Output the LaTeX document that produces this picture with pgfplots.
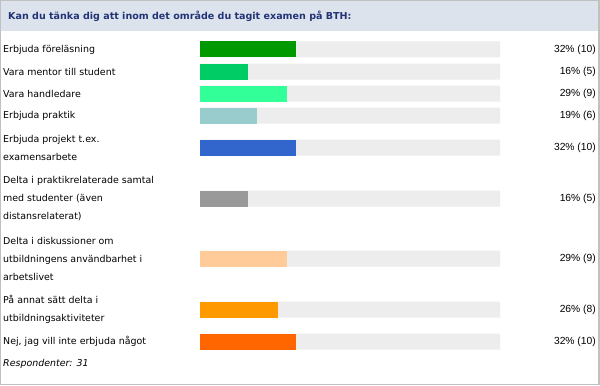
\documentclass[border=0pt]{standalone}
\usepackage{pgfplots}
\pgfplotsset{compat=1.18}
\usepackage{fontspec}
\setmainfont{DejaVu Sans}
\newfontfamily\valfont{Liberation Sans}
\definecolor{c1}{HTML}{009900}
\definecolor{c2}{HTML}{00CC66}
\definecolor{c3}{HTML}{33FF99}
\definecolor{c4}{HTML}{99CCCC}
\definecolor{c5}{HTML}{3366CC}
\definecolor{c6}{HTML}{999999}
\definecolor{c7}{HTML}{FFCC99}
\definecolor{c8}{HTML}{FF9900}
\definecolor{c9}{HTML}{FF6600}
\definecolor{track}{HTML}{EDEDED}
\definecolor{hdr}{HTML}{DDE3EC}
\definecolor{hdrtext}{HTML}{223377}
\definecolor{frame}{HTML}{C0C0C0}
\begin{document}
\begin{tikzpicture}[x=1bp,y=1bp]
% frame and header (pixel coordinates, y down)
\begin{scope}[yscale=-1,shift={(0,-384)}]
\fill[white] (0,0) rectangle (600,384);
\fill[hdr] (0,0) rectangle (600,30);
\draw[frame,line width=1bp] (0.5,0.5) rectangle (598.5,383.5);
\draw[frame,line width=1bp] (599.5,0) -- (599.5,384);
\node[anchor=west,inner sep=0pt,text=hdrtext,font=\fontsize{9.55bp}{11bp}\selectfont\bfseries] at (8,15.5) {Kan du tänka dig att inom det område du tagit examen på BTH:};
\end{scope}
\begin{axis}[
  at={(0,0)}, anchor=south west,
  width=600bp, height=384bp, scale only axis,
  xmin=-66.6667, xmax=133.3333,
  ymin=0, ymax=384, y dir=reverse,
  hide axis, clip=false,
  xbar, bar width=16, bar shift=0pt,
]
% tracks
\addplot[fill=track,draw=none] coordinates {(100,49) (100,71) (100,93) (100,115) (100,147) (100,198) (100,258) (100,309) (100,341)};
\addplot[fill=c1,draw=none] coordinates {(32,49)};
\addplot[fill=c2,draw=none] coordinates {(16,71)};
\addplot[fill=c3,draw=none] coordinates {(29,93)};
\addplot[fill=c4,draw=none] coordinates {(19,115)};
\addplot[fill=c5,draw=none] coordinates {(32,147)};
\addplot[fill=c6,draw=none] coordinates {(16,198)};
\addplot[fill=c7,draw=none] coordinates {(29,258)};
\addplot[fill=c8,draw=none] coordinates {(26,309)};
\addplot[fill=c9,draw=none] coordinates {(32,341)};
% category labels
\begin{scope}[every node/.append style={anchor=west,align=left,inner sep=0pt,font=\fontsize{9.45bp}{18bp}\selectfont}]
\node at (axis cs:-65.667,49) {Erbjuda föreläsning};
\node at (axis cs:-65.667,71) {Vara mentor till student};
\node at (axis cs:-65.667,93) {Vara handledare};
\node at (axis cs:-65.667,115) {Erbjuda praktik};
\node at (axis cs:-65.667,147) {Erbjuda projekt t.ex.\\examensarbete};
\node at (axis cs:-65.667,198) {Delta i praktikrelaterade samtal\\med studenter (även\\distansrelaterat)};
\node at (axis cs:-65.667,258) {Delta i diskussioner om\\utbildningens användbarhet i\\arbetslivet};
\node at (axis cs:-65.667,309) {På annat sätt delta i\\utbildningsaktiviteter};
\node at (axis cs:-65.667,341) {Nej, jag vill inte erbjuda något};
\node at (axis cs:-65.667,363) {\itshape Respondenter: 31};
\end{scope}
% value labels
\begin{scope}[every node/.append style={anchor=east,inner sep=0pt,font=\fontsize{10.3bp}{12bp}\selectfont\valfont}]
\node at (axis cs:132,49) {32\% (10)};
\node at (axis cs:132,71) {16\% (5)};
\node at (axis cs:132,93) {29\% (9)};
\node at (axis cs:132,115) {19\% (6)};
\node at (axis cs:132,147) {32\% (10)};
\node at (axis cs:132,198) {16\% (5)};
\node at (axis cs:132,258) {29\% (9)};
\node at (axis cs:132,309) {26\% (8)};
\node at (axis cs:132,341) {32\% (10)};
\end{scope}
\end{axis}
\end{tikzpicture}
\end{document}
